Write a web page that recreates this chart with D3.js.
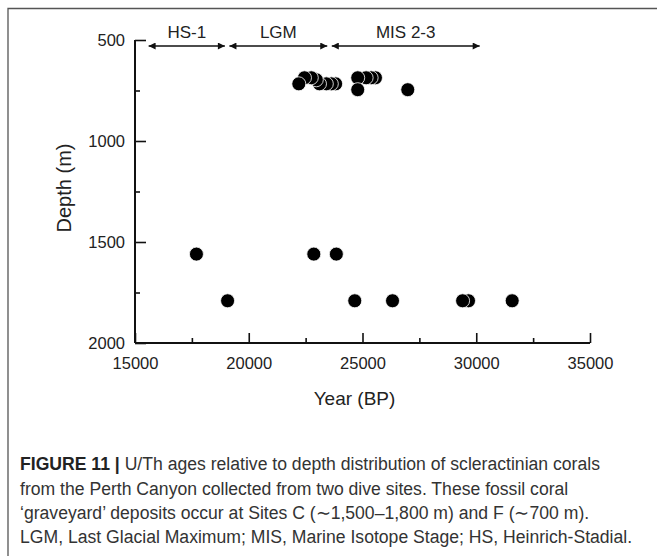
<!DOCTYPE html>
<html>
<head>
<meta charset="utf-8">
<script src="https://cdn.jsdelivr.net/npm/d3@7"></script>
<style>
  html, body { margin: 0; padding: 0; background: #fff; }
  svg { display: block; }
  text { font-family: "Liberation Sans", Arial, Helvetica, sans-serif; }
</style>
</head>
<body>
<svg id="chart" width="657" height="556"></svg>
<script>
// ---- data ----
const years  = [22200, 22450, 22750, 22970, 23110, 23410, 23630, 23820,
                24790, 24790, 25160, 25380, 25570, 26990,
                17700, 19070, 22860, 23850, 24660, 26320, 29400, 29660, 31580];
const depths = [717, 687, 687, 697, 717, 717, 717, 717,
                687, 746, 687, 687, 687, 746,
                1560, 1791, 1560, 1560, 1791, 1791, 1791, 1791, 1791];
const periodLabels = ["HS-1", "LGM", "MIS 2-3"];
const periodStart  = [15600, 19150, 23650];
const periodEnd    = [18950, 23450, 30150];
const xTicks = [15000, 20000, 25000, 30000, 35000];
const xMinor = [17500, 22500, 27500, 32500];
const yTicks = [500, 1000, 1500, 2000];
const yMinor = [750, 1250, 1750];
const xTitle = "Year (BP)";
const yTitle = "Depth (m)";
const captionBold = "FIGURE 11 |";
const captionLines = [
  " U/Th ages relative to depth distribution of scleractinian corals",
  "from the Perth Canyon collected from two dive sites. These fossil coral",
  "\u2018graveyard\u2019 deposits occur at Sites C (\u223c1,500\u20131,800 m) and F (\u223c700 m).",
  "LGM, Last Glacial Maximum; MIS, Marine Isotope Stage; HS, Heinrich-Stadial."
];

// ---- layout ----
const svg = d3.select("#chart");
const L = 135, R = 590, T = 40, B = 343;
const x = d3.scaleLinear().domain([15000, 35000]).range([L, R]);
const y = d3.scaleLinear().domain([500, 2000]).range([T, B]);

// frame
svg.append("path")
  .attr("d", `M8,570 L8,8.5 L670,8.5`)
  .attr("fill", "none").attr("stroke", "#555").attr("stroke-width", 1.3);

// axes
const axisColor = "#111";
const gx = svg.append("g").attr("transform", `translate(0,${B})`)
  .call(d3.axisBottom(x).tickValues(xTicks).tickSize(-10).tickPadding(14).tickFormat(d3.format("d")));
const gxm = svg.append("g").attr("transform", `translate(0,${B})`)
  .call(d3.axisBottom(x).tickValues(xMinor).tickSize(-5).tickFormat(""));
const gy = svg.append("g").attr("transform", `translate(${L},0)`)
  .call(d3.axisLeft(y).tickValues(yTicks).tickSize(-11).tickPadding(10).tickFormat(d3.format("d")));
const gym = svg.append("g").attr("transform", `translate(${L},0)`)
  .call(d3.axisLeft(y).tickValues(yMinor).tickSize(-5).tickFormat(""));
[gx, gxm, gy, gym].forEach(g => {
  g.select(".domain").attr("stroke", axisColor).attr("stroke-width", 2)
   .attr("d", g === gx || g === gxm ? `M${L},0H${R}` : `M0,${T}V${B}`);
  g.selectAll(".tick line").attr("stroke", axisColor).attr("stroke-width", 1.6);
  g.selectAll(".tick text").attr("fill", "#222").attr("font-size", 16.5)
   .attr("font-family", "'Liberation Sans', Arial, sans-serif");
});

// axis titles
svg.append("text").attr("x", (L + R) / 2 - 8).attr("y", 405).attr("text-anchor", "middle")
  .attr("font-size", 19).attr("fill", "#222").text(xTitle);
svg.append("text").attr("transform", `translate(71,188) rotate(-90)`).attr("text-anchor", "middle")
  .attr("font-size", 20).attr("fill", "#222").text(yTitle);

// period arrows
const defs = svg.append("defs");
defs.append("marker").attr("id", "ah").attr("viewBox", "0 0 10 10").attr("refX", 10).attr("refY", 5)
  .attr("markerWidth", 10).attr("markerHeight", 7).attr("markerUnits", "userSpaceOnUse")
  .attr("orient", "auto-start-reverse")
  .append("path").attr("d", "M0,0 L10,5 L0,10 Z").attr("fill", "#111");
const ay = 46;
periodLabels.forEach((lab, i) => {
  svg.append("line").attr("x1", x(periodStart[i])).attr("x2", x(periodEnd[i]))
    .attr("y1", ay).attr("y2", ay).attr("stroke", "#111").attr("stroke-width", 1.3)
    .attr("marker-start", "url(#ah)").attr("marker-end", "url(#ah)");
  svg.append("text").attr("x", (x(periodStart[i]) + x(periodEnd[i])) / 2).attr("y", 38)
    .attr("text-anchor", "middle").attr("font-size", 17).attr("fill", "#222").text(lab);
});

// points (drawn right-to-left so left ones are on top)
const pts = years.map((v, i) => ({ yr: v, d: depths[i] })).sort((a, b) => b.yr - a.yr);
svg.append("g").selectAll("circle").data(pts).join("circle")
  .attr("cx", d => x(d.yr)).attr("cy", d => y(d.d)).attr("r", 7)
  .attr("fill", "#000").attr("stroke", "#fff").attr("stroke-width", 0.8);

// caption
const cap = svg.append("g").attr("font-size", 17.6).attr("fill", "#333");
const lineY = [470, 495, 519, 543];
const t0 = cap.append("text").attr("x", 20).attr("y", lineY[0]);
t0.append("tspan").attr("font-weight", "bold").attr("fill", "#222").text(captionBold);
t0.append("tspan").text(captionLines[0]);
captionLines.slice(1).forEach((s, i) => {
  cap.append("text").attr("x", 20).attr("y", lineY[i + 1]).text(s);
});
</script>
</body>
</html>
